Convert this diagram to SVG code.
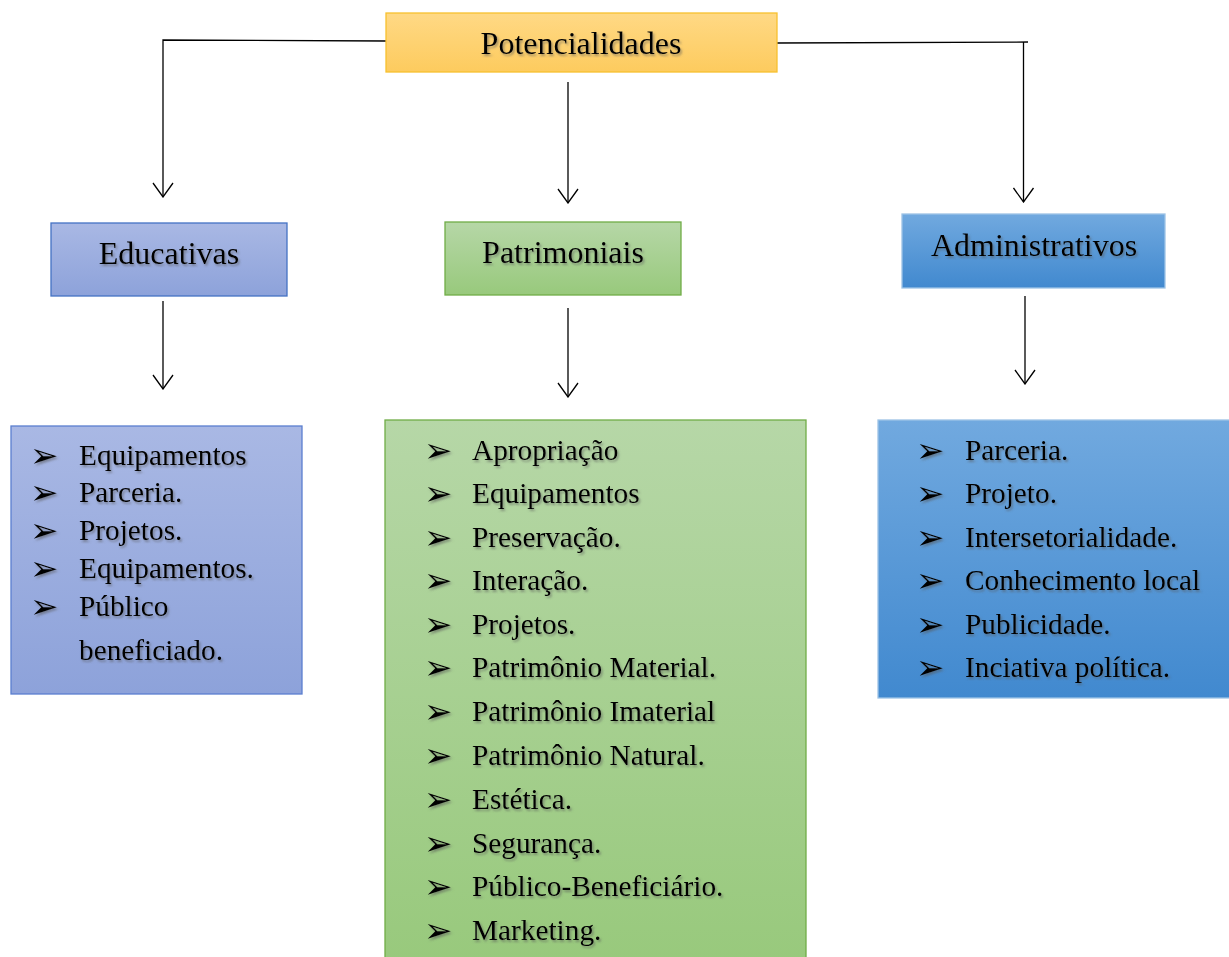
<svg xmlns="http://www.w3.org/2000/svg" width="1229" height="957" viewBox="0 0 1229 957">
<defs>
<linearGradient id="gY" x1="0" y1="0" x2="0" y2="1"><stop offset="0" stop-color="#ffd985"/><stop offset="1" stop-color="#fdcb5e"/></linearGradient>
<linearGradient id="gB1" x1="0" y1="0" x2="0" y2="1"><stop offset="0" stop-color="#a9b8e4"/><stop offset="1" stop-color="#8da2da"/></linearGradient>
<linearGradient id="gG" x1="0" y1="0" x2="0" y2="1"><stop offset="0" stop-color="#b6d7a7"/><stop offset="1" stop-color="#98c97c"/></linearGradient>
<linearGradient id="gB2" x1="0" y1="0" x2="0" y2="1"><stop offset="0" stop-color="#71a9df"/><stop offset="1" stop-color="#4189cf"/></linearGradient>
<filter id="sh" x="-5%" y="-20%" width="115%" height="150%"><feDropShadow dx="1.5" dy="2" stdDeviation="1.2" flood-color="#555" flood-opacity="0.55"/></filter>
<marker id="arr" viewBox="0 0 16 22" refX="15" refY="11" markerWidth="16" markerHeight="22" markerUnits="userSpaceOnUse" orient="auto">
<path d="M1,1 L15,11 L1,21" fill="none" stroke="#000" stroke-width="1.3"/>
</marker>
<style>
.t{font-family:"Liberation Serif","Times New Roman",serif;fill:#000;filter:url(#sh)}
.h{font-size:32px;text-anchor:middle}
.l{font-size:29.3px}
.b{font-family:"DejaVu Sans",sans-serif;font-size:34px;fill:#000;filter:url(#sh)}
.c{fill:none;stroke:#000;stroke-width:1.3}
</style>
</defs>
<rect width="1229" height="957" fill="#fff"/>
<g id="connectors">
<polyline class="c" points="386,41 163,40 163,197" marker-end="url(#arr)"/>
<line class="c" x1="568" y1="82" x2="568" y2="203" marker-end="url(#arr)"/>
<polyline class="c" points="777,43 1028,42"/>
<line class="c" x1="1023.5" y1="42" x2="1023.5" y2="202" marker-end="url(#arr)"/>
<line class="c" x1="163" y1="301" x2="163" y2="389" marker-end="url(#arr)"/>
<line class="c" x1="568" y1="308" x2="568" y2="397" marker-end="url(#arr)"/>
<line class="c" x1="1025" y1="296" x2="1025" y2="384" marker-end="url(#arr)"/>
</g>
<g id="potencialidades">
<rect x="386" y="13" width="391" height="59" fill="url(#gY)" stroke="#f7c12e" stroke-width="1.3"/>
<text class="t h" x="581" y="54">Potencialidades</text>
</g>
<g id="educativas">
<rect x="51" y="223" width="236" height="73" fill="url(#gB1)" stroke="#4472c4" stroke-width="1.3"/>
<text class="t h" x="169" y="264">Educativas</text>
</g>
<g id="patrimoniais">
<rect x="445" y="222" width="236" height="73" fill="url(#gG)" stroke="#70ad47" stroke-width="1.3"/>
<text class="t h" x="563" y="263">Patrimoniais</text>
</g>
<g id="administrativos">
<rect x="902" y="214" width="263" height="74" fill="url(#gB2)" stroke="#9dc3e6" stroke-width="1.3"/>
<text class="t h" x="1034" y="256">Administrativos</text>
</g>
<g id="educativas-list">
<rect x="11" y="426" width="291" height="268" fill="url(#gB1)" stroke="#5b7fcf" stroke-width="1.3"/>
<g class="b"><text x="30" y="467">➢</text><text x="30" y="504">➢</text><text x="30" y="542">➢</text><text x="30" y="580">➢</text><text x="30" y="618">➢</text></g>
<g class="t l">
<text x="79" y="465">Equipamentos</text>
<text x="79" y="502">Parceria.</text>
<text x="79" y="540">Projetos.</text>
<text x="79" y="578">Equipamentos.</text>
<text x="79" y="616">Público</text>
<text x="79" y="660">beneficiado.</text>
</g>
</g>
<g id="patrimoniais-list">
<rect x="385" y="420" width="421" height="545" fill="url(#gG)" stroke="#70ad47" stroke-width="1.3"/>
<g class="b">
<text x="424" y="462">➢</text><text x="424" y="505">➢</text><text x="424" y="549">➢</text><text x="424" y="592">➢</text><text x="424" y="636">➢</text><text x="424" y="679">➢</text><text x="424" y="723">➢</text><text x="424" y="767">➢</text><text x="424" y="811">➢</text><text x="424" y="855">➢</text><text x="424" y="898">➢</text><text x="424" y="942">➢</text>
</g>
<g class="t l">
<text x="472" y="460">Apropriação</text>
<text x="472" y="503">Equipamentos</text>
<text x="472" y="547">Preservação.</text>
<text x="472" y="590">Interação.</text>
<text x="472" y="634">Projetos.</text>
<text x="472" y="677">Patrimônio Material.</text>
<text x="472" y="721">Patrimônio Imaterial</text>
<text x="472" y="765">Patrimônio Natural.</text>
<text x="472" y="809">Estética.</text>
<text x="472" y="853">Segurança.</text>
<text x="472" y="896">Público-Beneficiário.</text>
<text x="472" y="940">Marketing.</text>
</g>
</g>
<g id="administrativos-list">
<rect x="878" y="420" width="352" height="278" fill="url(#gB2)" stroke="#9dc3e6" stroke-width="1.3"/>
<g class="b">
<text x="916" y="462">➢</text><text x="916" y="505">➢</text><text x="916" y="549">➢</text><text x="916" y="592">➢</text><text x="916" y="636">➢</text><text x="916" y="679">➢</text>
</g>
<g class="t l">
<text x="965" y="460">Parceria.</text>
<text x="965" y="503">Projeto.</text>
<text x="965" y="547">Intersetorialidade.</text>
<text x="965" y="590">Conhecimento local</text>
<text x="965" y="634">Publicidade.</text>
<text x="965" y="677">Inciativa política.</text>
</g>
</g>
</svg>
